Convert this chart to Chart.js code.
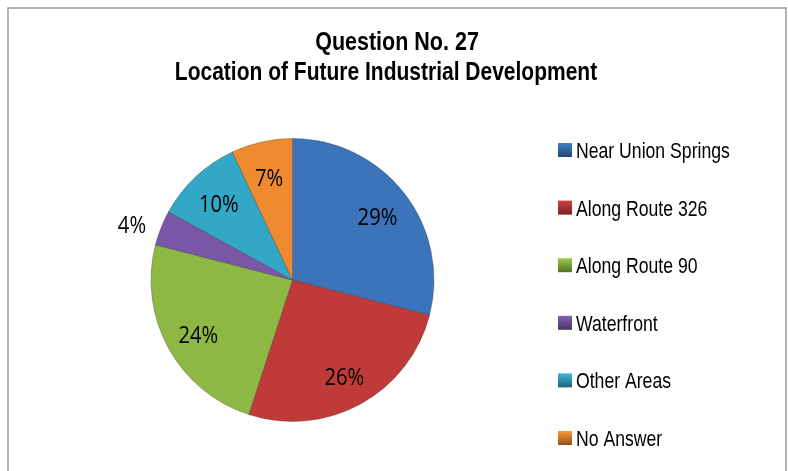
<!DOCTYPE html>
<html>
<head>
<meta charset="utf-8">
<script src="https://cdn.jsdelivr.net/npm/chart.js@4.4.1/dist/chart.umd.min.js"></script>
<style>
  html, body { margin: 0; padding: 0; background: #fff; }
  #wrap { width: 788px; height: 471px; }
</style>
</head>
<body>
<div id="wrap"><canvas id="pie"></canvas></div>
<script>
const titleLines = ["Question No. 27", "Location of Future Industrial Development"];
const categories = ["Near Union Springs", "Along Route 326", "Along Route 90", "Waterfront", "Other Areas", "No Answer"];
const shares = [29, 26, 24, 4, 10, 7];
const sliceColors = ["#3b74bb", "#c03a3a", "#8db843", "#7a57a6", "#33a7c6", "#ef8a2e"];

const narrow = "'Liberation Sans', Arial, sans-serif";
const labelFont = "'Open Sans', 'Noto Sans', sans-serif";

// squeeze text horizontally to mimic Arial Narrow / Calibri
function squeezed(ctx, text, x, y, sx, align) {
  ctx.save();
  ctx.translate(x, y);
  ctx.scale(sx, 1);
  ctx.textAlign = align;
  ctx.fillText(text, 0, 0);
  ctx.restore();
}

function shadeColor(hex, amt) {
  const n = parseInt(hex.slice(1), 16);
  let r = n >> 16, g = (n >> 8) & 255, b = n & 255;
  r = Math.round(r * (1 + amt)); g = Math.round(g * (1 + amt)); b = Math.round(b * (1 + amt));
  return "rgb(" + r + "," + g + "," + b + ")";
}

// frame, title, legend and labels drawn by hand, Excel style
const decor = {
  id: "decor",
  beforeDraw(chart) {
    const ctx = chart.ctx;
    ctx.save();
    ctx.strokeStyle = "#9a9a9a";
    ctx.lineWidth = 1.5;
    ctx.strokeRect(8, 8, 778, 480);
    ctx.restore();
  },
  afterDraw(chart) {
    const ctx = chart.ctx;
    ctx.save();
    ctx.fillStyle = "#000";
    ctx.textBaseline = "alphabetic";
    ctx.font = "bold 25px " + narrow;
    squeezed(ctx, titleLines[0], 397, 50, 0.86, "center");
    squeezed(ctx, titleLines[1], 386, 80, 0.84, "center");

    // legend
    ctx.font = "21.5px " + narrow;
    categories.forEach((name, i) => {
      const y = 150 + i * 57.6;
      const g = ctx.createLinearGradient(0, y - 7, 0, y + 7);
      g.addColorStop(0, shadeColor(sliceColors[i], 0.1));
      g.addColorStop(1, shadeColor(sliceColors[i], -0.4));
      ctx.fillStyle = g;
      ctx.fillRect(558, y - 7, 14, 14);
      ctx.fillStyle = "#000";
      squeezed(ctx, name, 576, y + 8, 0.82, "left");
    });

    // data labels
    const meta = chart.getDatasetMeta(0);
    ctx.font = "24px " + labelFont;
    ctx.textBaseline = "middle";
    meta.data.forEach((arc, i) => {
      const p = arc.getProps(["x", "y", "startAngle", "endAngle", "outerRadius"], true);
      const mid = (p.startAngle + p.endAngle) / 2;
      const outside = shares[i] < 5;
      const r = outside ? p.outerRadius + 16 : p.outerRadius * 0.76;
      const x = p.x + Math.cos(mid) * r;
      const y = p.y + Math.sin(mid) * r + 4;
      ctx.fillStyle = "#000";
      squeezed(ctx, shares[i] + "%", x, y, 0.84, outside ? "right" : "center");
    });
    ctx.restore();
  }
};

new Chart(document.getElementById("pie"), {
  type: "pie",
  data: {
    labels: categories,
    datasets: [{
      data: shares,
      backgroundColor: sliceColors,
      borderColor: "rgba(40,40,40,0.3)",
      borderWidth: 1
    }]
  },
  options: {
    responsive: true,
    maintainAspectRatio: false,
    animation: false,
    layout: { padding: { left: 150, right: 353, top: 138, bottom: 49 } },
    plugins: {
      legend: { display: false },
      tooltip: { enabled: false },
      title: { display: false }
    }
  },
  plugins: [decor]
});
</script>
</body>
</html>
